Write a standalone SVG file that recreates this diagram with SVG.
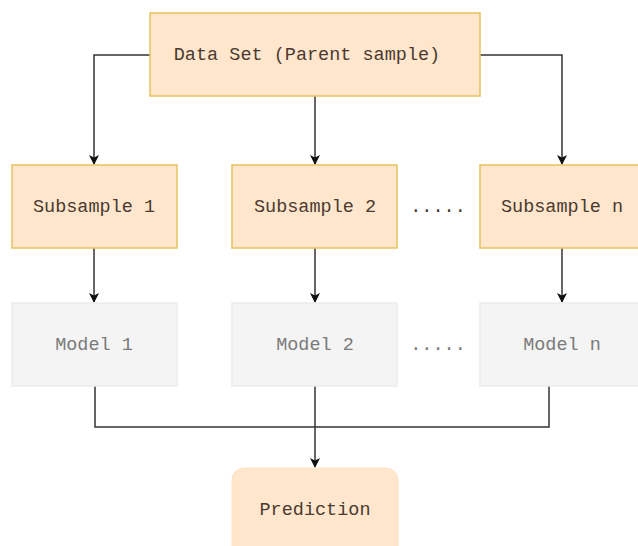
<svg xmlns="http://www.w3.org/2000/svg" width="638" height="546" viewBox="0 0 638 546">
<style>
.o{fill:#ffe6cc;stroke:#e6c35a;stroke-width:1.5}
.g{fill:#f4f4f4;stroke:#ececec;stroke-width:1.5}
.p{fill:#ffe6cc;stroke:#fde3c6;stroke-width:1}
text{font-family:"Liberation Mono","Courier New",monospace;font-size:18.5px;text-anchor:middle;dominant-baseline:central}
.t{fill:#4a3a30}
.m{fill:#7a7a7a}
.c{fill:none;stroke:#333;stroke-width:1.5}
</style>
<defs>
<marker id="a" markerWidth="10" markerHeight="10" refX="9" refY="5" orient="auto" markerUnits="userSpaceOnUse">
<path d="M0,0 L10,5 L0,10 L2.5,5 Z" fill="#111"/>
</marker>
</defs>
<g id="connectors">
<path class="c" d="M150,55 H94 V164" marker-end="url(#a)"/>
<path class="c" d="M315,96 V164" marker-end="url(#a)"/>
<path class="c" d="M480,55 H562 V164" marker-end="url(#a)"/>
<path class="c" d="M94,248 V302" marker-end="url(#a)"/>
<path class="c" d="M315,248 V302" marker-end="url(#a)"/>
<path class="c" d="M562,248 V302" marker-end="url(#a)"/>
<path class="c" d="M95,386 V427 H549 V386"/>
<path class="c" d="M315,386 V467" marker-end="url(#a)"/>
</g>
<g id="dataset"><rect class="o" x="150" y="13" width="330" height="83"/><text class="t" x="307" y="55">Data Set (Parent sample)</text></g>
<g id="sub1"><rect class="o" x="12" y="165" width="165" height="83"/><text class="t" x="94" y="207">Subsample 1</text></g>
<g id="sub2"><rect class="o" x="232" y="165" width="165" height="83"/><text class="t" x="315" y="207">Subsample 2</text></g>
<g id="subn"><rect class="o" x="480" y="165" width="165" height="83"/><text class="t" x="562" y="207">Subsample n</text></g>
<g id="dots1"><text class="t" x="438" y="207">.....</text></g>
<g id="model1"><rect class="g" x="12" y="303" width="165" height="83"/><text class="m" x="94" y="345">Model 1</text></g>
<g id="model2"><rect class="g" x="232" y="303" width="165" height="83"/><text class="m" x="315" y="345">Model 2</text></g>
<g id="modeln"><rect class="g" x="480" y="303" width="165" height="83"/><text class="m" x="562" y="345">Model n</text></g>
<g id="dots2"><text class="m" x="438" y="345">.....</text></g>
<g id="prediction"><rect class="p" x="232" y="468" width="166" height="100" rx="12"/><text class="t" x="315" y="510">Prediction</text></g>
</svg>
